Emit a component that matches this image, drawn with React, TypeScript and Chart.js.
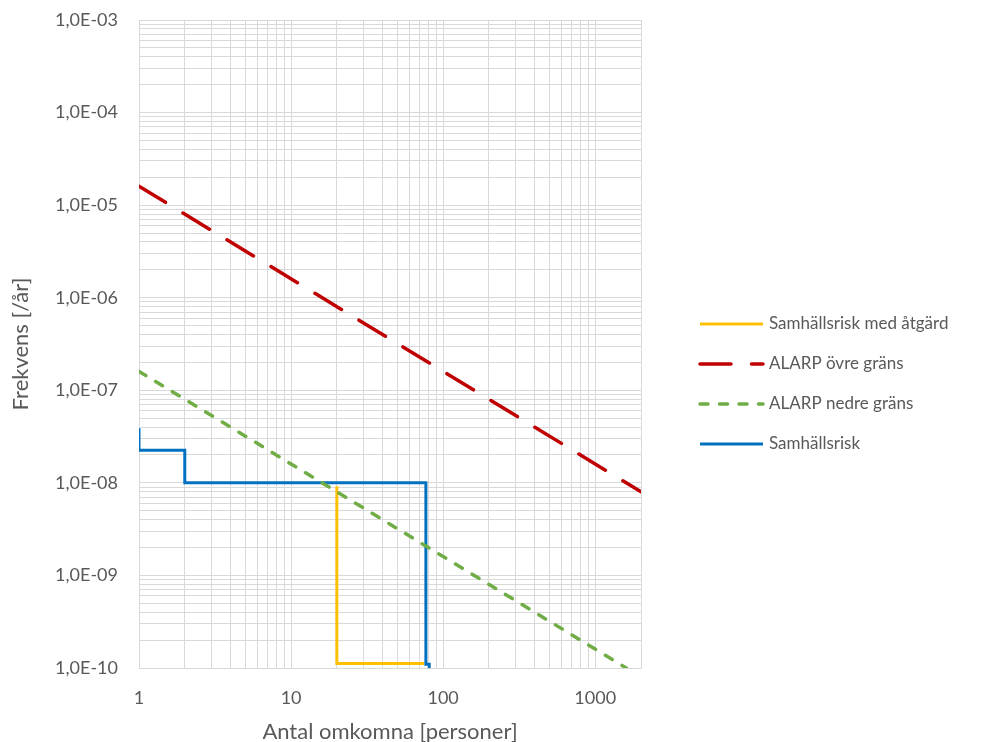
import React, { useEffect, useRef } from "react";
import { Chart, registerables } from "chart.js";

Chart.register(...registerables);

const xTickLabels = ["1", "10", "100", "1000"];
const yTickLabels = ["1,0E-10", "1,0E-09", "1,0E-08", "1,0E-07", "1,0E-06", "1,0E-05", "1,0E-04", "1,0E-03"];

const seriesNames = ["Samhällsrisk med åtgärd", "ALARP övre gräns", "ALARP nedre gräns", "Samhällsrisk"];

const yellowX = [20, 20, 75];
const yellowY = [9.2e-9, 1.12e-10, 1.12e-10];

const redX = [1, 2000];
const redY = [1.6e-5, 8e-9];

const greenX = [1, 1600];
const greenY = [1.6e-7, 1e-10];

const blueX = [1, 1, 2, 2, 77, 77, 81, 81];
const blueY = [3.9e-8, 2.25e-8, 2.25e-8, 1e-8, 1e-8, 1.1e-10, 1.1e-10, 1e-10];

const X_MIN = 1, X_MAX = 2000, Y_MIN = 1e-10, Y_MAX = 1e-3;

const FONT = "Lato";
const TEXT = "#595959";
const GRID = "#d9d9d9";

const pts = (xs: number[], ys: number[]) => xs.map((x, i) => ({ x, y: ys[i] }));

const isPow10 = (v: number) => Math.abs(Math.log10(v) - Math.round(Math.log10(v))) < 1e-9;

function logTicks(min: number, max: number) {
  const out: { value: number }[] = [];
  const e0 = Math.floor(Math.log10(min));
  const e1 = Math.ceil(Math.log10(max));
  for (let e = e0; e <= e1; e++) {
    for (let s = 1; s <= 9; s++) {
      const v = parseFloat((s * Math.pow(10, e)).toPrecision(6));
      if (v >= min * 0.999999 && v <= max * 1.000001) out.push({ value: v });
    }
  }
  return out;
}

const zeroPad = (scale: any) => {
  scale.paddingTop = 0;
  scale.paddingBottom = 0;
  scale.paddingLeft = 0;
  scale.paddingRight = 0;
};

const legendPlugin = {
  id: "customLegend",
  afterDraw(chart: any) {
    const ctx = chart.ctx;
    const ys = [324, 364, 404, 444];
    ctx.save();
    chart.data.datasets.forEach((ds: any, i: number) => {
      const y = ys[i];
      ctx.beginPath();
      ctx.strokeStyle = ds.borderColor;
      ctx.lineWidth = ds.borderWidth;
      ctx.lineCap = ds.borderCapStyle || "butt";
      ctx.setLineDash(ds.borderDash || []);
      ctx.moveTo(700, y);
      ctx.lineTo(763, y);
      ctx.stroke();
      ctx.setLineDash([]);
      ctx.fillStyle = TEXT;
      ctx.font = `17px ${FONT}`;
      ctx.textBaseline = "middle";
      ctx.textAlign = "left";
      ctx.fillText(ds.label, 769, y);
    });
    ctx.restore();
  },
};

export default function App() {
  const ref = useRef<HTMLCanvasElement>(null);
  useEffect(() => {
    if (!ref.current) return;
    const chart = new Chart(ref.current, {
      type: "scatter",
      data: {
        datasets: [
          {
            label: seriesNames[0],
            data: pts(yellowX, yellowY),
            showLine: true,
            borderColor: "#FFC000",
            borderWidth: 3,
            pointRadius: 0,
            order: 3,
          },
          {
            label: seriesNames[1],
            data: pts(redX, redY),
            showLine: true,
            borderColor: "#C00000",
            borderWidth: 3.5,
            borderDash: [31, 20.5],
            borderCapStyle: "round",
            pointRadius: 0,
            order: 2,
          },
          {
            label: seriesNames[2],
            data: pts(greenX, greenY),
            showLine: true,
            borderColor: "#70AD47",
            borderWidth: 3.5,
            borderDash: [8, 11.5],
            borderCapStyle: "round",
            pointRadius: 0,
            order: 0,
          },
          {
            label: seriesNames[3],
            data: pts(blueX, blueY),
            showLine: true,
            borderColor: "#0070C0",
            borderWidth: 3,
            pointRadius: 0,
            order: 1,
          },
        ] as any,
      },
      options: {
        animation: false,
        responsive: false,
        devicePixelRatio: 1,
        layout: { padding: { left: 0, top: 20, right: 340, bottom: 0 } },
        plugins: {
          legend: { display: false },
          tooltip: { enabled: false },
        },
        scales: {
          x: {
            type: "logarithmic",
            min: X_MIN,
            max: X_MAX,
            afterBuildTicks: (scale: any) => {
              scale.ticks = logTicks(X_MIN, X_MAX);
            },
            afterFit: (scale: any) => {
              scale.height = 74;
              zeroPad(scale);
            },
            grid: { color: GRID, lineWidth: 1, drawTicks: false },
            border: { color: GRID },
            ticks: {
              autoSkip: false,
              maxRotation: 0,
              padding: 19,
              color: TEXT,
              font: { family: FONT, size: 18 },
              callback: (v: any) => (isPow10(Number(v)) ? xTickLabels[Math.round(Math.log10(Number(v)))] ?? "" : ""),
            },
            title: {
              display: true,
              text: "Antal omkomna [personer]",
              color: TEXT,
              font: { family: FONT, size: 22 },
              padding: { top: 0, bottom: -3 },
            },
          },
          y: {
            type: "logarithmic",
            min: Y_MIN,
            max: Y_MAX,
            afterBuildTicks: (scale: any) => {
              scale.ticks = logTicks(Y_MIN, Y_MAX);
            },
            afterFit: (scale: any) => {
              scale.width = 139;
              zeroPad(scale);
            },
            grid: { color: GRID, lineWidth: 1, drawTicks: false },
            border: { color: GRID },
            ticks: {
              autoSkip: false,
              padding: 21,
              color: TEXT,
              font: { family: FONT, size: 18 },
              callback: (v: any) =>
                isPow10(Number(v)) ? yTickLabels[Math.round(Math.log10(Number(v))) + 10] ?? "" : "",
            },
            title: {
              display: true,
              text: "Frekvens [/år]",
              color: TEXT,
              font: { family: FONT, size: 22 },
              padding: { top: 8, bottom: 0 },
            },
          },
        },
      },
      plugins: [legendPlugin],
    });
    return () => chart.destroy();
  }, []);
  return (
    <div style={{ position: "fixed", left: 0, top: 0, width: 981, height: 742, background: "#fff" }}>
      <canvas ref={ref} width={981} height={742} style={{ width: 981, height: 742 }} />
    </div>
  );
}
